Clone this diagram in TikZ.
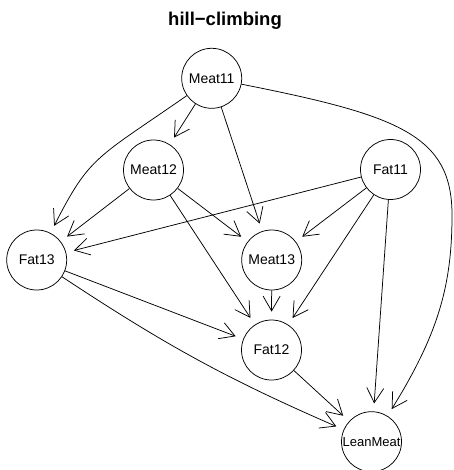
\documentclass[tikz,border=0pt]{standalone}
\usepackage{fontspec}
\setmainfont{Liberation Sans}
\usepackage{tikz}
\usetikzlibrary{arrows.meta}

\begin{document}
\begin{tikzpicture}[
  x=1pt,y=-1pt,
  var/.style={draw,circle,line width=0.75pt,minimum size=60pt,inner sep=0pt,font=\fontsize{14}{16}\selectfont},
  arc/.style={-{Straight Barb[angle=60:17pt,line width=0.75pt]},line width=0.75pt,shorten >=8pt}
]
\useasboundingbox (0,0) rectangle (453,470);
\node[font=\bfseries\fontsize{18.5}{22}\selectfont,anchor=base] (title) at (225,26) {hill−climbing};
\node[var] (Meat11) at (211.7,78.3) {Meat11};
\node[var] (Meat12) at (153.5,170) {Meat12};
\node[var] (Fat11) at (390.5,169.5) {Fat11};
\node[var] (Fat13) at (36.7,260) {Fat13};
\node[var] (Meat13) at (271.7,260) {Meat13};
\node[var] (Fat12) at (271.5,350) {Fat12};
\node[var,font=\fontsize{13}{15}\selectfont] (LeanMeat) at (371.5,441.7) {LeanMeat};
\coordinate (bulge) at (452,215);
% arcs out of Meat11
\draw[arc] (Meat11) -- (Meat12);
\draw[arc] (Meat11) .. controls (95.9,158.9) and (90.1,155.3) .. (Fat13);
\draw[arc] (Meat11) -- (Meat13);
\draw[arc] (Meat11) .. controls (398.5,115.3) and (452,135) .. (bulge)
  .. controls (452,285) and (438.5,333.5) .. (LeanMeat);
% arcs out of Meat12 and Fat11
\draw[arc] (Meat12) -- (Fat13);
\draw[arc] (Meat12) -- (Meat13);
\draw[arc] (Meat12) -- (Fat12);
\draw[arc] (Fat11) -- (Fat13);
\draw[arc] (Fat11) -- (Meat13);
\draw[arc] (Fat11) -- (Fat12);
\draw[arc] (Fat11) -- (LeanMeat);
% the rest
\draw[arc] (Fat13) -- (Fat12);
\draw[arc] (Fat13) to[bend right=5] (LeanMeat);
\draw[arc] (Meat13) -- (Fat12);
\draw[arc] (Fat12) -- (LeanMeat);
\end{tikzpicture}
\end{document}
